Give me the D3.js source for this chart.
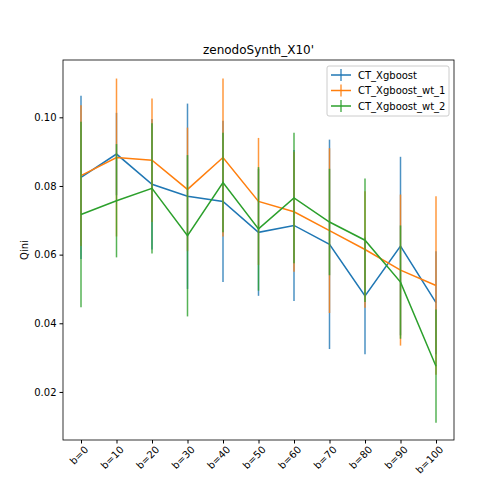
<!DOCTYPE html>
<html><head><meta charset="utf-8">
<script src="https://cdn.jsdelivr.net/npm/d3@7"></script>
<style>body{margin:0;background:#fff}text{font-family:"DejaVu Sans",sans-serif}</style>
</head><body><div id="chart"></div>
<script>
const categories = ["b=0","b=10","b=20","b=30","b=40","b=50","b=60","b=70","b=80","b=90","b=100"];
const seriesNames = ["CT_Xgboost","CT_Xgboost_wt_1","CT_Xgboost_wt_2"];
const colors = ["#1f77b4","#ff7f0e","#2ca02c"];
const blueVals = [0.0825,0.0893,0.0805,0.077,0.0755,0.0665,0.0685,0.063,0.048,0.0625,0.046];
const blueErr = [0.0238,0.012,0.019,0.027,0.0235,0.0185,0.022,0.0305,0.017,0.026,0.015];
const orangeVals = [0.083,0.0883,0.0875,0.079,0.0883,0.0755,0.0725,0.067,0.0615,0.0555,0.051];
const orangeErr = [0.0205,0.023,0.018,0.018,0.023,0.0185,0.0175,0.024,0.017,0.022,0.026];
const greenVals = [0.0717,0.0757,0.0793,0.0655,0.081,0.0675,0.0765,0.0695,0.0642,0.052,0.0275];
const greenErr = [0.027,0.0165,0.019,0.0235,0.0145,0.018,0.019,0.0155,0.018,0.0165,0.0165];
const yTicks = [0.02,0.04,0.06,0.08,0.10];

const series = [[blueVals,blueErr],[orangeVals,orangeErr],[greenVals,greenErr]];
const W = 504, H = 504, L = 63, R = 454, T = 60, B = 440;
const svg = d3.select("#chart").append("svg").attr("width", W).attr("height", H);

const x = d3.scalePoint().domain(categories).range([81, 436]);
const y = d3.scaleLinear().domain([0.006, 0.1167]).range([B, T]);

series.forEach(([vals, errs], s) => {
  const g = svg.append("g");
  g.selectAll("line").data(vals).enter().append("line")
    .attr("x1", (d, i) => x(categories[i])).attr("x2", (d, i) => x(categories[i]))
    .attr("y1", (d, i) => y(d - errs[i])).attr("y2", (d, i) => y(d + errs[i]))
    .attr("stroke", colors[s]).attr("stroke-width", 1.5).attr("stroke-opacity", 0.8);
  g.append("path").datum(vals)
    .attr("d", d3.line().x((d, i) => x(categories[i])).y(d => y(d)))
    .attr("fill", "none").attr("stroke", colors[s]).attr("stroke-width", 1.5);
});

const xAxis = svg.append("g").attr("transform", `translate(0,${B})`)
  .call(d3.axisBottom(x).tickSize(3.5).tickSizeOuter(0));
xAxis.selectAll("text").attr("font-size", 10).attr("text-anchor", "end")
  .attr("transform", "rotate(-45)").attr("dx", "-0.2em").attr("dy", "0.6em");
const yAxis = svg.append("g").attr("transform", `translate(${L},0)`)
  .call(d3.axisLeft(y).tickValues(yTicks).tickFormat(d3.format(".2f")).tickSize(3.5).tickSizeOuter(0));
yAxis.selectAll("text").attr("font-size", 10);
svg.selectAll(".domain").remove();
svg.append("rect").attr("x", L).attr("y", T).attr("width", R - L).attr("height", B - T)
  .attr("fill", "none").attr("stroke", "#000").attr("stroke-width", 0.8);

svg.append("text").attr("x", (L + R) / 2).attr("y", T - 6).attr("text-anchor", "middle")
  .attr("font-size", 12).text("zenodoSynth_X10'");
svg.append("text").attr("transform", `translate(${L - 35},${(T + B) / 2}) rotate(-90)`)
  .attr("text-anchor", "middle").attr("font-size", 10).text("Qini");

const lg = svg.append("g").attr("transform", "translate(327,66)");
lg.append("rect").attr("width", 122).attr("height", 50).attr("rx", 2)
  .attr("fill", "#fff").attr("fill-opacity", 0.8).attr("stroke", "#ccc");
seriesNames.forEach((n, i) => {
  const yy = 9 + i * 15.5;
  lg.append("line").attr("x1", 4).attr("x2", 24).attr("y1", yy).attr("y2", yy)
    .attr("stroke", colors[i]).attr("stroke-width", 1.5);
  lg.append("line").attr("x1", 14).attr("x2", 14).attr("y1", yy - 6).attr("y2", yy + 6)
    .attr("stroke", colors[i]).attr("stroke-width", 1.5).attr("stroke-opacity", 0.8);
  lg.append("text").attr("x", 31).attr("y", yy + 3.5).attr("font-size", 10).text(n);
});
</script></body></html>
